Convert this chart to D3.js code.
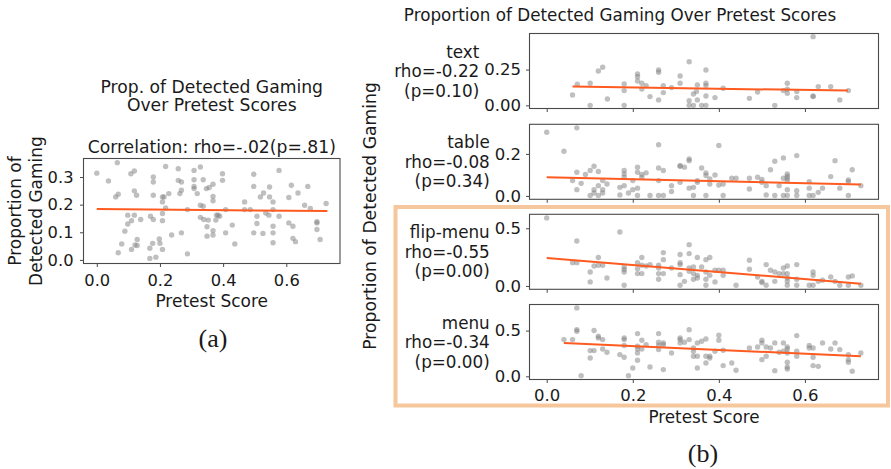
<!DOCTYPE html>
<html>
<head>
<meta charset="utf-8">
<script src="https://cdn.jsdelivr.net/npm/d3@7"></script>
<style>
  html, body { margin: 0; padding: 0; background: #fff; }
  svg { display: block; }
</style>
</head>
<body>
<svg id="chart" width="891" height="469"></svg>
<script>
// ---- data: [pretest score, proportion of detected gaming] ----
const overallPoints = [
  [0,0.314],[0.037,0.286],[0.065,0.352],[0.068,0.238],[0.06,0.228],[0.068,0.026],[0.079,0.058],[0.089,0.104],
  [0.098,0.162],[0.098,0.13],[0.108,0.312],[0.11,0.038],[0.11,0.142],[0.119,0.322],[0.119,0.25],[0.119,0.162],
  [0.121,0.054],[0.126,0.234],[0.128,0.074],[0.128,0.052],[0.139,0.146],[0.168,0.005],[0.168,0.042],[0.17,0.158],
  [0.177,0.06],[0.179,0.3],[0.179,0.282],[0.179,0.234],[0.179,0.146],[0.187,0.01],[0.198,0.076],[0.2,0.06],
  [0.208,0.228],[0.208,0.21],[0.208,0.168],[0.208,0.142],[0.208,0.038],[0.213,0.228],[0.218,0.338],[0.218,0.188],
  [0.228,0.24],[0.237,0.09],[0.258,0.33],[0.258,0.288],[0.263,0.24],[0.268,0.282],[0.268,0.098],[0.268,0.252],
  [0.287,0.022],[0.287,0.182],[0.308,0.324],[0.308,0.29],[0.308,0.266],[0.308,0.258],[0.318,0.24],[0.328,0.336],
  [0.328,0.198],[0.328,0.154],[0.337,0.194],[0.337,0.29],[0.339,0.146],[0.347,0.258],[0.349,0.086],[0.349,0.12],
  [0.353,0.144],[0.356,0.262],[0.368,0.274],[0.368,0.23],[0.368,0.214],[0.368,0.106],[0.368,0.09],[0.377,0.144],
  [0.379,0.162],[0.384,0.162],[0.389,0.158],[0.398,0.312],[0.398,0.288],[0.408,0.098],[0.408,0.182],[0.429,0.126],
  [0.437,0.058],[0.468,0.21],[0.468,0.182],[0.486,0.182],[0.497,0.31],[0.497,0.266],[0.497,0.098],[0.507,0.158],
  [0.507,0.132],[0.518,0.228],[0.526,0.096],[0.528,0.242],[0.535,0.17],[0.545,0.162],[0.547,0.264],[0.547,0.228],
  [0.558,0.21],[0.558,0.182],[0.558,0.122],[0.558,0.098],[0.558,0.062],[0.577,0.324],[0.577,0.158],[0.608,0.226],
  [0.608,0.134],[0.616,0.27],[0.621,0.122],[0.621,0.078],[0.629,0.066],[0.637,0.242],[0.658,0.198],[0.668,0.266],
  [0.676,0.186],[0.697,0.134],[0.697,0.138],[0.697,0.11],[0.707,0.074],[0.726,0.204]
];
const overallTrend = [[0, 0.184], [0.73, 0.177]];

const textPoints = [
  [0.06,0.072],[0.071,0.147],[0.101,0.154],[0.101,0],[0.12,0.24],[0.13,0.266],[0.141,0.044],[0.18,0.149],
  [0.18,0.103],[0.18,0],[0.211,0.219],[0.211,0.2],[0.211,0.17],[0.221,0.154],[0.221,0.114],[0.231,0.138],
  [0.24,0.061],[0.26,0.247],[0.26,0.231],[0.26,0.038],[0.271,0.138],[0.271,0.089],[0.29,0.124],[0.31,0.205],
  [0.31,0.154],[0.331,0.305],[0.331,0.033],[0.331,0],[0.341,0.079],[0.341,0],[0.348,0.096],[0.35,0.142],
  [0.35,0.038],[0.36,0],[0.37,0.247],[0.37,0.154],[0.37,0.138],[0.37,0.065],[0.37,0],[0.391,0.054],
  [0.41,0.119],[0.471,0.049],[0.49,0.093],[0.53,0],[0.55,0.103],[0.559,0.154],[0.559,0.112],[0.559,0.084],
  [0.581,0.096],[0.581,0.054],[0.619,0.48],[0.619,0.065],[0.619,0.061],[0.631,0.131],[0.66,0.131],[0.681,0.038],
  [0.701,0.103]
];
const textTrend = [[0.06, 0.131], [0.70, 0.103]];

const tablePoints = [
  [0,0.303],[0.04,0.213],[0.07,0.324],[0.06,0.073],[0.07,0.113],[0.07,0.03],[0.08,0.06],[0.09,0.102],
  [0.101,0.121],[0.101,0.002],[0.11,0.141],[0.11,0.03],[0.11,0.014],[0.12,0.116],[0.12,0.049],[0.12,0.002],
  [0.13,0.073],[0.13,0.014],[0.13,0.03],[0.14,0.057],[0.17,0.041],[0.17,0.005],[0.18,0.121],[0.18,0.105],
  [0.18,0.089],[0.18,0.049],[0.19,0.014],[0.2,0.073],[0.2,0.03],[0.211,0.137],[0.211,0.113],[0.211,0.037],
  [0.211,0.002],[0.221,0.102],[0.221,0.089],[0.231,0.11],[0.24,0.002],[0.26,0.244],[0.26,0.133],[0.26,0.073],
  [0.26,0.002],[0.271,0.121],[0.271,0.002],[0.29,0.049],[0.29,0.021],[0.31,0.144],[0.31,0.141],[0.31,0.065],
  [0.32,0.137],[0.331,0.176],[0.331,0.168],[0.331,0.037],[0.341,0.041],[0.341,0.002],[0.35,0.073],[0.35,0.065],
  [0.36,0.133],[0.37,0.11],[0.37,0.097],[0.37,0.002],[0.379,0.081],[0.379,0.057],[0.391,0.1],[0.4,0.24],
  [0.4,0.052],[0.41,0.057],[0.41,0.002],[0.43,0.084],[0.44,0.084],[0.471,0.084],[0.471,0.033],[0.49,0.089],
  [0.5,0.078],[0.5,0.065],[0.51,0.049],[0.51,0.005],[0.52,0.125],[0.53,0.165],[0.53,0.002],[0.54,0.049],
  [0.55,0.181],[0.55,0.084],[0.55,0.002],[0.559,0.105],[0.559,0.094],[0.559,0.084],[0.559,0.073],[0.559,0.03],
  [0.559,0.002],[0.581,0.192],[0.581,0.025],[0.581,0.002],[0.61,0.068],[0.61,0.037],[0.61,0.002],[0.619,0.002],
  [0.631,0.017],[0.641,0.037],[0.66,0.092],[0.67,0.168],[0.681,0.037],[0.701,0.076],[0.701,0.068],[0.701,0.002],
  [0.71,0.125],[0.73,0.049]
];
const tableTrend = [[0, 0.089], [0.73, 0.054]];

const flipMenuPoints = [
  [0,0.59],[0.06,0.202],[0.07,0.202],[0.07,0.39],[0.101,0.121],[0.101,0.035],[0.11,0.173],[0.12,0.246],
  [0.12,0.179],[0.13,0.179],[0.14,0.069],[0.17,0.468],[0.18,0.165],[0.18,0.142],[0.18,0.121],[0.18,0.006],
  [0.211,0.202],[0.211,0.15],[0.211,0.107],[0.221,0.246],[0.221,0.179],[0.221,0.107],[0.231,0.173],[0.24,0.185],
  [0.26,0.179],[0.26,0.156],[0.26,0.107],[0.26,0.058],[0.271,0.289],[0.271,0.228],[0.271,0.107],[0.29,0.156],
  [0.31,0.272],[0.31,0.202],[0.31,0.185],[0.31,0.098],[0.31,0.006],[0.32,0.04],[0.331,0.358],[0.331,0.28],
  [0.331,0.156],[0.331,0.127],[0.341,0.165],[0.341,0.107],[0.341,0.058],[0.35,0.246],[0.35,0.092],[0.35,0.069],
  [0.36,0.165],[0.37,0.228],[0.37,0.121],[0.37,0.058],[0.37,0.006],[0.379,0.246],[0.379,0.092],[0.391,0.136],
  [0.391,0.035],[0.4,0.136],[0.41,0.136],[0.41,0.092],[0.44,0.006],[0.471,0.223],[0.471,0.145],[0.49,0.078],
  [0.5,0.04],[0.5,0.029],[0.51,0.185],[0.51,0.006],[0.52,0.136],[0.53,0.121],[0.53,0.04],[0.54,0.107],
  [0.55,0.156],[0.55,0.107],[0.559,0.173],[0.559,0.107],[0.559,0.069],[0.559,0.04],[0.559,0.006],[0.581,0.185],
  [0.581,0.058],[0.581,0.006],[0.61,0.006],[0.619,0.121],[0.619,0.092],[0.619,0.006],[0.631,0.04],[0.641,0.049],
  [0.66,0.078],[0.67,0.04],[0.681,0.006],[0.701,0.078],[0.701,0.006],[0.71,0.087],[0.73,0.006]
];
const flipMenuTrend = [[0, 0.243], [0.73, 0.02]];

const menuPoints = [
  [0.04,0.401],[0.06,0.401],[0.07,0.748],[0.07,0.51],[0.07,0.492],[0.08,0.007],[0.101,0.281],[0.101,0.2],
  [0.11,0.281],[0.11,0.5],[0.12,0.438],[0.12,0.42],[0.13,0.401],[0.13,0.299],[0.14,0.263],[0.17,0.237],
  [0.18,0.42],[0.18,0.401],[0.18,0.336],[0.18,0.208],[0.19,0.007],[0.2,0.091],[0.211,0.467],[0.211,0.328],
  [0.211,0.299],[0.211,0.255],[0.211,0.175],[0.221,0.394],[0.221,0.299],[0.231,0.346],[0.24,0.102],[0.26,0.467],
  [0.26,0.372],[0.26,0.336],[0.26,0.292],[0.271,0.365],[0.271,0.346],[0.271,0.073],[0.29,0.255],[0.31,0.42],
  [0.31,0.401],[0.31,0.365],[0.32,0.372],[0.331,0.51],[0.331,0.401],[0.341,0.31],[0.341,0.274],[0.341,0.219],
  [0.35,0.365],[0.35,0.219],[0.35,0.091],[0.36,0.383],[0.37,0.408],[0.37,0.219],[0.37,0.146],[0.379,0.219],
  [0.379,0.2],[0.391,0.274],[0.4,0.449],[0.4,0.394],[0.41,0.284],[0.41,0.117],[0.43,0.146],[0.44,0.066],
  [0.471,0.31],[0.49,0.321],[0.5,0.394],[0.5,0.365],[0.5,0.182],[0.51,0.219],[0.51,0.321],[0.52,0.31],
  [0.53,0.062],[0.53,0.365],[0.54,0.263],[0.55,0.365],[0.55,0.274],[0.559,0.321],[0.559,0.299],[0.559,0.255],
  [0.559,0.153],[0.559,0.102],[0.559,0.08],[0.581,0.445],[0.581,0.274],[0.581,0.219],[0.61,0.336],[0.61,0.31],
  [0.619,0.31],[0.619,0.208],[0.619,0.117],[0.631,0.109],[0.641,0.365],[0.66,0.299],[0.67,0.365],[0.681,0.292],
  [0.701,0.237],[0.701,0.182],[0.701,0.153],[0.71,0.055],[0.73,0.255]
];
const menuTrend = [[0.04, 0.365], [0.73, 0.219]];

// ---- tick values and labels ----
const xTickValues = [0, 0.2, 0.4, 0.6];
const overallYTicks = [0, 0.1, 0.2, 0.3];
const textYTicks = [0, 0.25];
const tableYTicks = [0, 0.2];
const flipMenuYTicks = [0, 0.5];
const menuYTicks = [0, 0.5];

const panelNames = ["text", "table", "flip-menu", "menu"];
const panelRhos = ["rho=-0.22", "rho=-0.08", "rho=-0.55", "rho=-0.34"];
const panelPs = ["(p=0.10)", "(p=0.34)", "(p=0.00)", "(p=0.00)"];

// ---- styling ----
const SANS = "DejaVu Sans, sans-serif";
const SERIF = "Liberation Serif, Times New Roman, serif";
const FRAME = "#4a4a4a";
const DOT = "#808080";
const TREND = "#ff5a1f";
const HIGHLIGHT = "#f6c79c";

const svg = d3.select("#chart");

function drawPanel(g, opts) {
  const { box, xDomain, yDomain, yTicks, yFmt, points, trend, showXLabels, tickFont, xPad, yPad } = opts;
  const x = d3.scaleLinear().domain(xDomain).range([box.x0, box.x1]);
  const y = d3.scaleLinear().domain(yDomain).range([box.y1, box.y0]);

  // scatter
  g.append("g").selectAll("circle").data(points).join("circle")
    .attr("cx", d => x(d[0])).attr("cy", d => y(d[1])).attr("r", 2.7)
    .attr("fill", DOT).attr("fill-opacity", 0.5);

  // fitted line
  g.append("path")
    .attr("d", d3.line().x(d => x(d[0])).y(d => y(d[1]))(trend))
    .attr("fill", "none").attr("stroke", TREND).attr("stroke-width", 2);

  // axes
  const ya = g.append("g").attr("transform", `translate(${box.x0},0)`)
    .call(d3.axisLeft(y).tickValues(yTicks).tickFormat(d3.format(yFmt)).tickSize(3.5).tickPadding(yPad));
  const xa = g.append("g").attr("transform", `translate(0,${box.y1})`)
    .call(d3.axisBottom(x).tickValues(xTickValues)
      .tickFormat(showXLabels ? d3.format(".1f") : () => "").tickSize(3.5).tickPadding(xPad));
  [ya, xa].forEach(a => {
    a.select(".domain").remove();
    a.selectAll(".tick line").attr("stroke", FRAME).attr("stroke-width", 1);
    a.selectAll(".tick text").attr("fill", "#1a1a1a")
      .style("font-family", SANS).style("font-size", tickFont + "px");
  });

  // frame
  g.append("rect").attr("x", box.x0).attr("y", box.y0)
    .attr("width", box.x1 - box.x0).attr("height", box.y1 - box.y0)
    .attr("fill", "none").attr("stroke", FRAME).attr("stroke-width", 1.1);

  return { x, y, ya };
}

function addText(parent, x, y, str, size, anchor, family) {
  return parent.append("text").attr("x", x).attr("y", y)
    .attr("text-anchor", anchor || "middle").attr("dominant-baseline", "central")
    .attr("fill", "#1a1a1a").style("font-family", family || SANS).style("font-size", size + "px")
    .text(str);
}

// ---------------- (a) overall ----------------
const gA = svg.append("g");
const boxA = { x0: 83.5, x1: 340, y0: 158.5, y1: 263.5 };
drawPanel(gA, {
  box: boxA, xDomain: [-0.042, 0.770], yDomain: [-0.013, 0.367],
  yTicks: overallYTicks, yFmt: ".1f", points: overallPoints, trend: overallTrend,
  showXLabels: true, tickFont: 16.3, xPad: 7, yPad: 6.5
});
const cxA = (boxA.x0 + boxA.x1) / 2;
addText(gA, cxA, 86.5, "Prop. of Detected Gaming", 17.2);
addText(gA, cxA, 105, "Over Pretest Scores", 17.2);
addText(gA, cxA, 147, "Correlation: rho=-.02(p=.81)", 17.2);
addText(gA, cxA, 300.5, "Pretest Score", 17);
const cyA = (boxA.y0 + boxA.y1) / 2;
[["Proportion of", 15], ["Detected Gaming", 36]].forEach(([s, lx]) => {
  addText(gA, 0, 0, s, 17).attr("transform", `translate(${lx},${cyA}) rotate(-90)`);
});
addText(gA, 213, 338, "(a)", 26, "middle", SERIF);

// ---------------- (b) by representation ----------------
const gB = svg.append("g");
const rx0 = 529.5, rx1 = 878.5;
const rightPanels = [
  { y0: 33.5, y1: 108.5, yDomain: [-0.022, 0.502], yTicks: textYTicks, yFmt: ".2f", points: textPoints, trend: textTrend },
  { y0: 124.3, y1: 199.3, yDomain: [-0.016, 0.341], yTicks: tableYTicks, yFmt: ".1f", points: tablePoints, trend: tableTrend },
  { y0: 214.3, y1: 289.3, yDomain: [-0.029, 0.621], yTicks: flipMenuYTicks, yFmt: ".1f", points: flipMenuPoints, trend: flipMenuTrend },
  { y0: 304.5, y1: 379.5, yDomain: [-0.035, 0.785], yTicks: menuYTicks, yFmt: ".1f", points: menuPoints, trend: menuTrend }
];

rightPanels.forEach((p, i) => {
  const g = gB.append("g");
  const res = drawPanel(g, {
    box: { x0: rx0, x1: rx1, y0: p.y0, y1: p.y1 }, xDomain: [-0.04, 0.771],
    yDomain: p.yDomain, yTicks: p.yTicks, yFmt: p.yFmt, points: p.points, trend: p.trend,
    showXLabels: i === rightPanels.length - 1, tickFont: 16.5, xPad: 6, yPad: 5
  });
  // per-panel label sits just left of the widest tick label
  let minX = Infinity;
  res.ya.selectAll(".tick text").each(function () {
    const b = this.getBBox();
    const m = this.parentNode.transform.baseVal.consolidate();
    const tx = m ? m.matrix.e : 0;
    minX = Math.min(minX, b.x + tx + rx0);
  });
  const lx = minX - 5;
  const cy = (p.y0 + p.y1) / 2;
  addText(g, lx, cy - 19.5, panelNames[i], 16.8, "end");
  addText(g, lx, cy, panelRhos[i], 16.8, "end");
  addText(g, lx, cy + 19.5, panelPs[i], 16.8, "end");
});

addText(gB, 620, 15, "Proportion of Detected Gaming Over Pretest Scores", 16.8);
addText(gB, (rx0 + rx1) / 2, 416.5, "Pretest Score", 16.8);
addText(gB, 0, 0, "Proportion of Detected Gaming", 17.2)
  .attr("transform", `translate(370,216) rotate(-90)`);
addText(gB, 703, 453, "(b)", 26, "middle", SERIF);

// highlight box around the two menu-based panels
gB.append("rect").attr("x", 395.5).attr("y", 207).attr("width", 492.5).attr("height", 198.5)
  .attr("fill", "none").attr("stroke", HIGHLIGHT).attr("stroke-width", 4);
</script>
</body>
</html>
